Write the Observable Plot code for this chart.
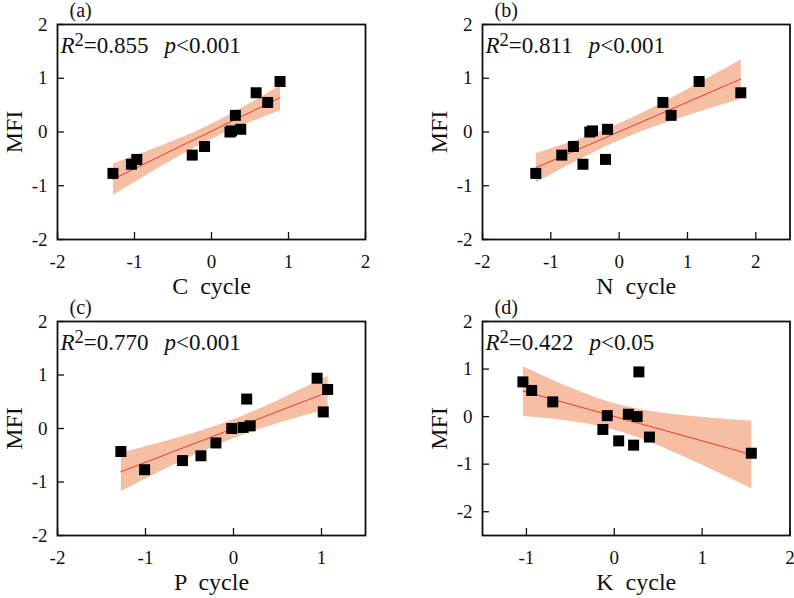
<!DOCTYPE html>
<html>
<head>
<meta charset="utf-8">
<script src="https://cdn.jsdelivr.net/npm/d3@7"></script>
<script src="https://cdn.jsdelivr.net/npm/@observablehq/plot@0.6"></script>
<style>
  html, body { margin: 0; padding: 0; background: #fff; }
  #chart { position: relative; width: 794px; height: 598px; background: #fff; overflow: hidden; }
  .panel { position: absolute; }
  #chart svg, #chart svg text, #chart svg tspan {
    font-family: "Liberation Serif", "Times New Roman", serif !important;
  }
</style>
</head>
<body>
<div id="chart"></div>
<script>
// MFI of the 12 sites, and the matching cycle scores
const mfi    = [-0.77, -0.60, -0.51, -0.43, -0.27, 0.00, 0.02, 0.05, 0.31, 0.55, 0.73, 0.94];
const cCycle = [-1.28, -1.04, -0.97, -0.25, -0.09, 0.24, 0.26, 0.38, 0.31, 0.73, 0.58, 0.89];
const nCycle = [-1.22, -0.53, -0.20, -0.84, -0.67, -0.43, -0.39, -0.17, 0.76, 0.64, 1.78, 1.17];
const pCycle = [-1.01, -0.58, -0.37, -1.28, -0.20, -0.02, 0.11, 0.19, 1.02, 0.15, 1.07, 0.95];
const kCycle = [1.56, 0.22, 0.05, 0.40, -0.13, 0.26, -0.08, 0.16, -0.70, -0.94, -1.04, 0.28];

// Panel texts
const panelTags = ["(a)", "(b)", "(c)", "(d)"];
const xTitles   = ["C  cycle", "N  cycle", "P  cycle", "K  cycle"];
const r2Labels  = ["0.855", "0.811", "0.770", "0.422"];
const pLabels   = ["<0.001", "<0.001", "<0.001", "<0.05"];

// Axis domains and tick values
const xDomains = [[-2, 2], [-2, 2.5], [-2, 1.5], [-1.5, 2]];
const yDomains = [[-2, 2], [-2, 2], [-2, 2], [-2.5, 2]];
const xTicks   = [[-2, -1, 0, 1, 2], [-2, -1, 0, 1, 2], [-2, -1, 0, 1], [-1, 0, 1, 2]];
const yTicks   = [[-2, -1, 0, 1, 2], [-2, -1, 0, 1, 2], [-2, -1, 0, 1, 2], [-2, -1, 0, 1, 2]];

const cycles = [cCycle, nCycle, pCycle, kCycle];

// Grid placement of the four panels
const layout = [
  {left: 0,   top: 0,   ml: 57, mr: 32,  mt: 24, mb: 60},
  {left: 397, top: 0,   ml: 85, mr: 4.5, mt: 24, mb: 60},
  {left: 0,   top: 298, ml: 57, mr: 32,  mt: 23, mb: 62},
  {left: 397, top: 298, ml: 85, mr: 4.5, mt: 23, mb: 62}
];

const W = 397, H = 299;
const font = "'Liberation Serif', 'Times New Roman', serif";
const ink = "#111";
const fmt = d => String(d);

const chart = document.getElementById("chart");

cycles.forEach((xs, i) => {
  const L = layout[i];
  const rows = xs.map((x, j) => ({x, y: mfi[j]}));
  const innerW = W - L.ml - L.mr;
  const innerH = H - L.mt - L.mb;

  const svg = Plot.plot({
    width: W,
    height: H,
    marginLeft: L.ml,
    marginRight: L.mr,
    marginTop: L.mt,
    marginBottom: L.mb,
    style: {fontFamily: font, color: ink, background: "transparent", overflow: "visible"},
    x: {domain: xDomains[i], nice: false},
    y: {domain: yDomains[i], nice: false},
    marks: [
      Plot.linearRegressionY(rows, {
        x: "x", y: "y", ci: 0.95,
        stroke: "#ee3a28", strokeWidth: 1,
        fill: "#f6bea3", fillOpacity: 1
      }),
      Plot.dot(rows, {x: "x", y: "y", symbol: "square", r: 6.2, fill: "#000", stroke: "none"}),
      Plot.frame({stroke: ink, strokeWidth: 1.8}),
      // inward tick marks on the left and bottom edges
      Plot.tickY(yTicks[i], {y: d => d, stroke: ink, strokeWidth: 1.3, insetRight: innerW - 7}),
      Plot.tickX(xTicks[i], {x: d => d, stroke: ink, strokeWidth: 1.3, insetTop: innerH - 7}),
      Plot.axisX({ticks: xTicks[i], tickSize: 0, tickPadding: 15, tickFormat: fmt, fontSize: 19, label: null, fill: ink}),
      Plot.axisY({ticks: yTicks[i], tickSize: 0, tickPadding: 10, tickFormat: fmt, fontSize: 19, label: null, fill: ink}),
      Plot.text([xTitles[i]], {
        text: d => d, frameAnchor: "bottom", dy: 54, lineAnchor: "bottom",
        fontSize: 24, fill: ink
      }),
      Plot.text(["MFI"], {
        text: d => d, frameAnchor: "left", dx: -36, rotate: -90, lineAnchor: "bottom",
        textAnchor: "middle", fontSize: 24, fill: ink
      }),
      Plot.text([panelTags[i]], {
        text: d => d, frameAnchor: "top-left", dx: 12, dy: -7.5, lineAnchor: "bottom",
        textAnchor: "start", fontSize: 20, fill: ink
      })
    ]
  });

  // R² and p annotation in the top-left corner of the frame
  const t = d3.select(svg).append("text")
    .attr("x", L.ml + 3.5)
    .attr("y", L.mt + 29)
    .attr("text-anchor", "start")
    .attr("font-size", 23)
    .attr("fill", ink);
  t.append("tspan").attr("font-style", "italic").text("R");
  t.append("tspan").attr("font-size", 18.5).attr("dy", -7).text("2");
  t.append("tspan").attr("dy", 7).text("=" + r2Labels[i]);
  t.append("tspan").attr("dx", 16).attr("font-style", "italic").text("p");
  t.append("tspan").text(pLabels[i]);

  const div = document.createElement("div");
  div.className = "panel";
  div.style.left = L.left + "px";
  div.style.top = L.top + "px";
  div.appendChild(svg);
  chart.appendChild(div);
});
</script>
</body>
</html>
